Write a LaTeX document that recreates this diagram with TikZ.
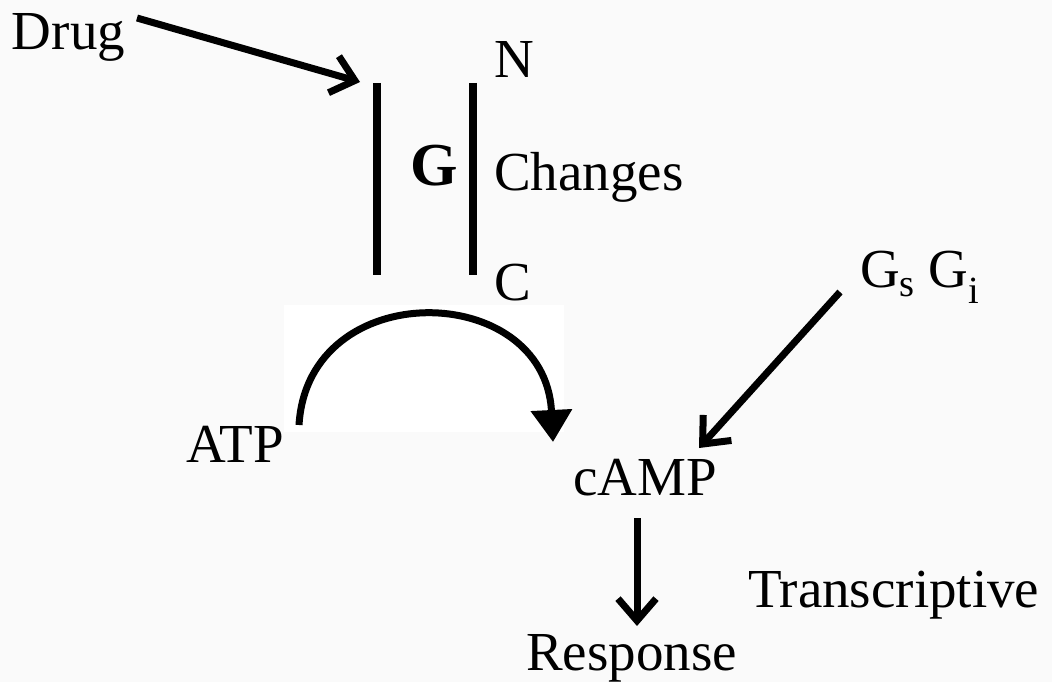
\documentclass[tikz,border=0pt]{standalone}
\usepackage{fontspec}
\setmainfont{Liberation Serif}
\usetikzlibrary{arrows.meta}
\definecolor{bgc}{RGB}{250,250,250}
\tikzset{
  lbl/.style={anchor=base west, inner sep=0pt, outer sep=0pt, font=\fontsize{55}{62}\selectfont},
  bar/.style={line width=8pt},
  openarrow/.style={line width=7pt, -{Straight Barb[length=22pt,width=38pt,line width=7pt]}},
  fillarrow/.style={line width=7pt, -{Triangle[length=32pt,width=40pt]}},
}
\begin{document}
\begin{tikzpicture}[x=1pt,y=-1pt]
\fill[bgc] (0,0) rectangle (1052,682);
\useasboundingbox (0,0) rectangle (1052,682);
\fill[white] (284,305) rectangle (564,432);

% labels
\node[lbl] (drug) at (12,50) {Drug};
\node[lbl] (N) at (494,78) {N};
\node[lbl, font=\fontsize{61}{66}\selectfont\bfseries] (G) at (410,185) {G};
\node[lbl] (changes) at (494,190) {Changes};
\node[lbl] (C) at (494,300) {C};
\node[lbl] (atp) at (186,462) {ATP};
\node[lbl] (camp) at (573,495) {cAMP};
\node[lbl] (gsgi) at (860,287) {G\textsubscript{s} G\textsubscript{i}};
\node[lbl] (trans) at (748,607) {Transcriptive};
\node[lbl] (resp) at (526,670) {Response};

% membrane bars
\coordinate (b1t) at (377,83);
\coordinate (b1b) at (377,275);
\coordinate (b2t) at (473,83);
\coordinate (b2b) at (473,275);
\draw[bar] (b1t) -- (b1b);
\draw[bar] (b2t) -- (b2b);

% arrows
\coordinate (drugstart) at (137,18);
\coordinate (drugend) at (360,82);
\draw[openarrow] (drugstart) -- (drugend);

\coordinate (gstart) at (840,292);
\coordinate (gend) at (699,448);
\draw[openarrow] (gstart) -- (gend);

\coordinate (cstart) at (637,518);
\coordinate (cend) at (637,626);
\draw[openarrow] (cstart) -- (cend);

\coordinate (astart) at (299,425);
\coordinate (aend) at (553,442);
\draw[fillarrow] (astart) .. controls (308,275) and (545,280) .. (aend);
\end{tikzpicture}
\end{document}
